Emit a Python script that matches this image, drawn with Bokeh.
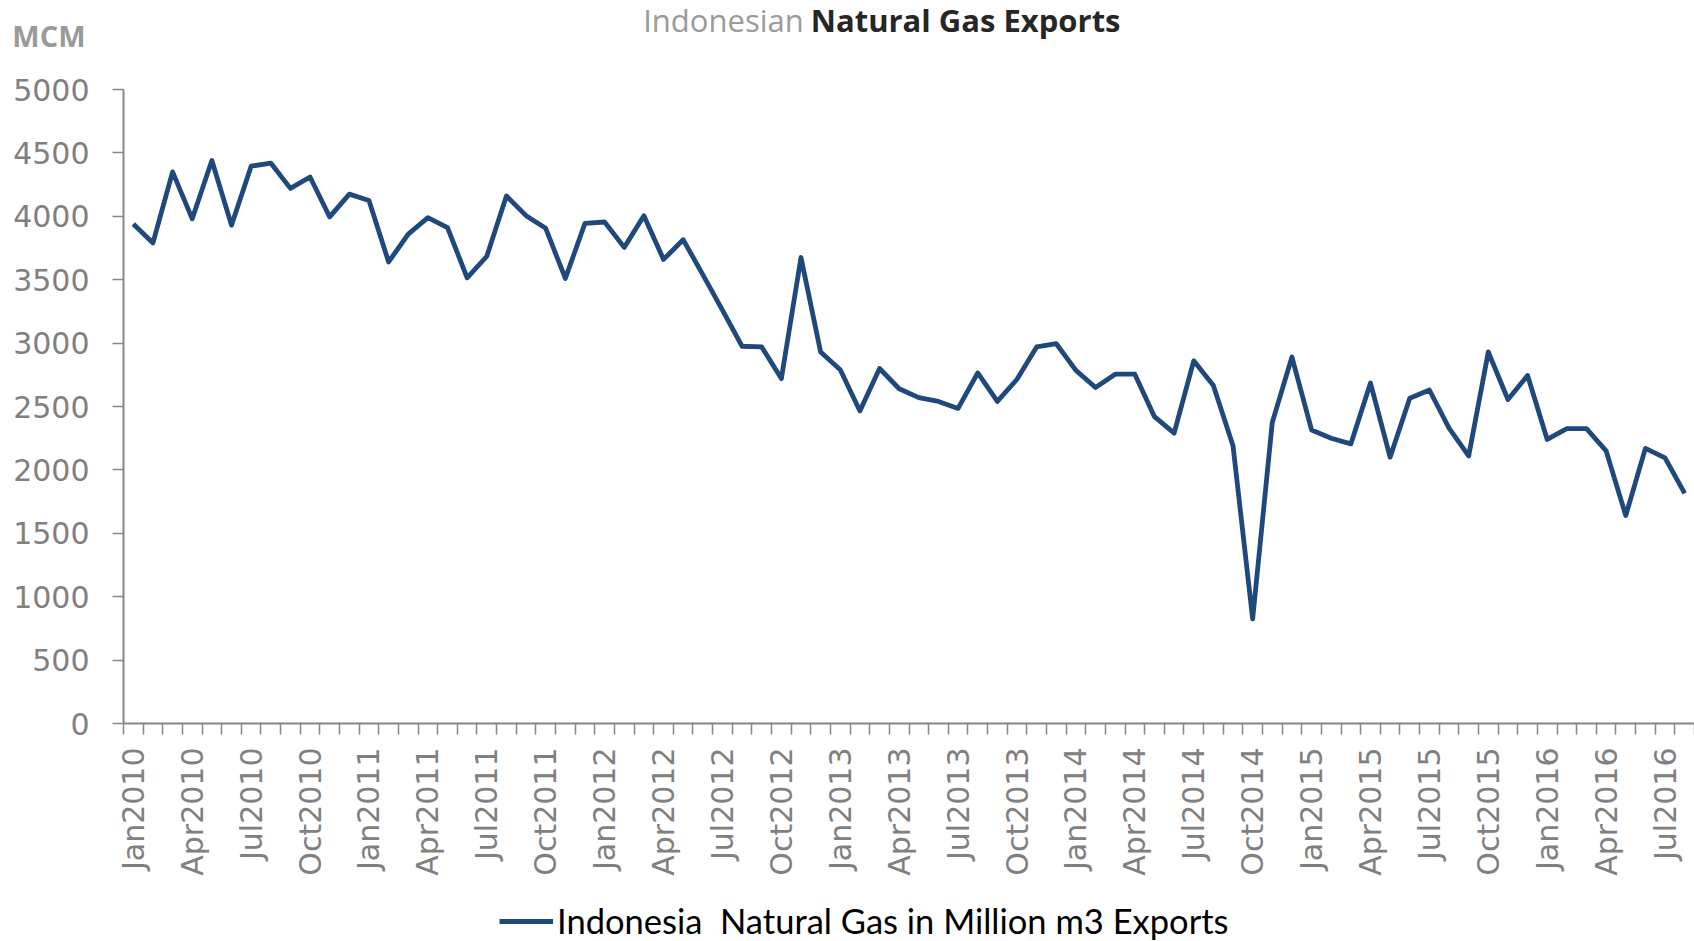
import math
from bokeh.plotting import figure
from bokeh.layouts import column
from bokeh.models import (ColumnDataSource, Range1d, FixedTicker, Legend, LegendItem)
from bokeh.core.properties import value
from bokeh.embed import file_html
from bokeh.resources import INLINE

months = [
    "Jan2010", "Feb2010", "Mar2010", "Apr2010", "May2010", "Jun2010", "Jul2010", "Aug2010", "Sep2010", "Oct2010", "Nov2010", "Dec2010",
    "Jan2011", "Feb2011", "Mar2011", "Apr2011", "May2011", "Jun2011", "Jul2011", "Aug2011", "Sep2011", "Oct2011", "Nov2011", "Dec2011",
    "Jan2012", "Feb2012", "Mar2012", "Apr2012", "May2012", "Jun2012", "Jul2012", "Aug2012", "Sep2012", "Oct2012", "Nov2012", "Dec2012",
    "Jan2013", "Feb2013", "Mar2013", "Apr2013", "May2013", "Jun2013", "Jul2013", "Aug2013", "Sep2013", "Oct2013", "Nov2013", "Dec2013",
    "Jan2014", "Feb2014", "Mar2014", "Apr2014", "May2014", "Jun2014", "Jul2014", "Aug2014", "Sep2014", "Oct2014", "Nov2014", "Dec2014",
    "Jan2015", "Feb2015", "Mar2015", "Apr2015", "May2015", "Jun2015", "Jul2015", "Aug2015", "Sep2015", "Oct2015", "Nov2015", "Dec2015",
    "Jan2016", "Feb2016", "Mar2016", "Apr2016", "May2016", "Jun2016", "Jul2016", "Aug2016",
]

exports_mcm = [
    3940, 3790, 4350, 3980, 4440, 3930, 4395, 4420, 4220, 4310, 3995, 4175,
    4125, 3640, 3860, 3990, 3910, 3515, 3685, 4160, 4005, 3905, 3510, 3945,
    3955, 3755, 4005, 3660, 3815, 3540, 3260, 2975, 2970, 2720, 3675, 2930,
    2790, 2465, 2800, 2640, 2570, 2540, 2485, 2765, 2540, 2715, 2970, 2995,
    2785, 2650, 2755, 2755, 2420, 2290, 2860, 2665, 2190, 825, 2375, 2890,
    2315, 2250, 2205, 2685, 2100, 2565, 2630, 2330, 2110, 2930, 2555, 2745,
    2240, 2325, 2325, 2150, 1640, 2170, 2095, 1815,
]

y_ticks = [0, 500, 1000, 1500, 2000, 2500, 3000, 3500, 4000, 4500, 5000]

title_light = "Indonesian"
title_bold = "Natural Gas Exports"
unit_label = "MCM"
series_name = "Indonesia  Natural Gas in Million m3 Exports"

LINE = "#1F497D"
AXIS = "#868686"
TICKTXT = "#808080"
W = 1694
BL = 123
FW = W - BL
TOP_H, MAIN_H, BOT_H = 60, 825, 56

idx = list(range(len(months)))
src = ColumnDataSource(dict(x=idx, y=exports_mcm, month=months))

# ---- title strip ----
top = figure(width=W, height=TOP_H, output_backend="svg", toolbar_location=None, title=None,
             x_range=Range1d(0, FW), y_range=Range1d(0, TOP_H), x_axis_type=None,
             min_border_left=BL, min_border_right=0, min_border_top=0, min_border_bottom=0)
top.outline_line_color = None
top.xgrid.visible = False
top.ygrid.visible = False
ta = top.yaxis[0]
ta.ticker = FixedTicker(ticks=[25.5])
ta.major_label_overrides = {25.5: unit_label}
ta.axis_line_color = None
ta.major_tick_line_color = None
ta.minor_tick_line_color = None
ta.major_tick_out = 0
ta.major_tick_in = 0
ta.major_label_standoff = 38
ta.major_label_text_font = "Open Sans"
ta.major_label_text_font_style = "bold"
ta.major_label_text_font_size = "29px"
ta.major_label_text_color = "#9a9a9a"

top.text(x=[642.7 - BL], y=[40.3], text=[title_light], text_font=value("Open Sans"),
         text_font_size="31px", text_color="#9a9a9a", text_align="left", text_baseline="alphabetic")
top.text(x=[1120 - BL], y=[40.3], text=[title_bold], text_font=value("Open Sans"),
         text_font_style="bold", text_font_size="31px", text_color="#262626",
         text_align="right", text_baseline="alphabetic")

# ---- main chart ----
BT = 89 - TOP_H
BB = int(round(MAIN_H - (722.5 - TOP_H)))
p = figure(width=W, height=MAIN_H, output_backend="svg", toolbar_location=None, title=None,
           x_range=Range1d(-0.5, len(months) - 0.5), y_range=Range1d(0, 5000),
           min_border_left=BL, min_border_right=0, min_border_top=BT, min_border_bottom=BB)
p.outline_line_color = None
p.xgrid.visible = False
p.ygrid.visible = False

r = p.line("x", "y", source=src, line_color=LINE, line_width=4.8, line_join="round")

xa = p.xaxis[0]
xa.ticker = FixedTicker(ticks=[idx[i] for i in range(0, len(months), 3)],
                        minor_ticks=[i - 0.5 for i in range(len(months) + 1)])
xa.major_label_overrides = {idx[i]: months[i] for i in range(0, len(months), 3)}
xa.major_label_orientation = math.pi / 2
xa.axis_line_color = AXIS
xa.axis_line_width = 2
xa.major_tick_line_color = None
xa.major_tick_out = 11
xa.major_tick_in = 0
xa.minor_tick_line_color = AXIS
xa.minor_tick_line_width = 1.5
xa.minor_tick_out = 11
xa.minor_tick_in = 0
xa.major_label_standoff = 13
xa.major_label_text_font = "DejaVu Sans"
xa.major_label_text_font_size = "30px"
xa.major_label_text_color = TICKTXT

ya = p.yaxis[0]
ya.ticker = FixedTicker(ticks=y_ticks)
ya.axis_line_color = AXIS
ya.axis_line_width = 2
ya.major_tick_line_color = AXIS
ya.major_tick_line_width = 1.5
ya.major_tick_out = 11
ya.major_tick_in = 0
ya.minor_tick_line_color = None
ya.major_label_standoff = 23
ya.major_label_text_font = "DejaVu Sans"
ya.major_label_text_font_size = "30px"
ya.major_label_text_color = TICKTXT

# ---- legend strip (series drawn off-screen here; only its legend entry shows) ----
bot = figure(width=W, height=BOT_H, output_backend="svg", toolbar_location=None, title=None,
             x_range=Range1d(0, FW), y_range=Range1d(0, BOT_H),
             x_axis_type=None, y_axis_type=None,
             min_border_left=BL, min_border_right=0, min_border_top=0, min_border_bottom=0)
bot.outline_line_color = None
bot.xgrid.visible = False
bot.ygrid.visible = False
r_leg = bot.line("x", "y", source=src, line_color=LINE, line_width=4.8)
legend = Legend(items=[LegendItem(label=series_name, renderers=[r_leg])],
                location=(499 - BL, 0), orientation="horizontal",
                glyph_width=54, glyph_height=36, label_standoff=4, padding=0, margin=0,
                spacing=0, border_line_color=None, background_fill_alpha=0,
                label_text_font="Lato", label_text_font_size="34.5px", label_text_color="#000000")
bot.add_layout(legend, "center")

layout = column(top, p, bot, spacing=0)
open("out.html", "w").write(file_html(layout, INLINE))
